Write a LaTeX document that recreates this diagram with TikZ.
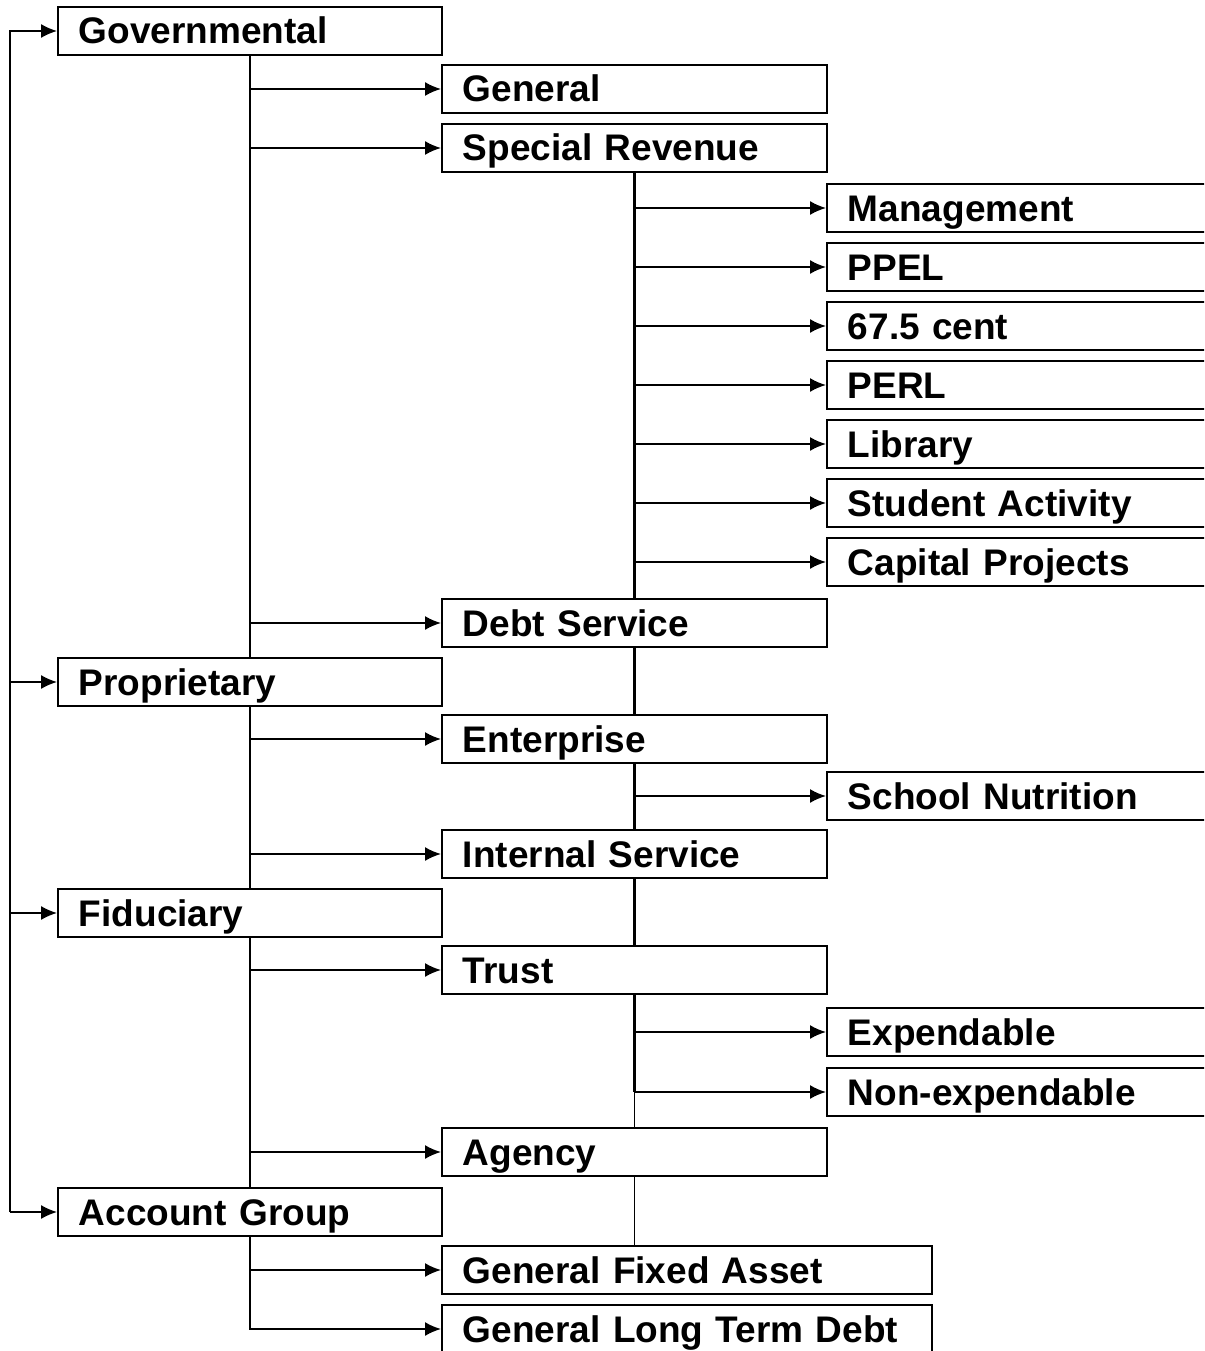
\documentclass[tikz,border=0pt]{standalone}
\usepackage{fontspec}
\setmainfont{Liberation Sans}
\usetikzlibrary{arrows.meta}

\begin{document}
\begin{tikzpicture}[x=1pt, y=-1pt,
  box/.style={draw, line width=1.8pt, anchor=west, minimum height=48pt,
    inner xsep=21pt, inner ysep=0pt, align=left, text height=26pt, text depth=0pt,
    font=\fontsize{37}{40}\selectfont\bfseries},
  grp/.style={box, text width=342pt},
  fund/.style={box, text width=343pt},
  sub/.style={box, text width=400pt},
  wide/.style={box, text width=448pt},
  tip/.style={-{Latex[length=16pt,width=14pt]}},
  link/.style={line width=1.8pt, tip},
  trunk/.style={line width=2.6pt}]
  \clip (0,0) rectangle (1204,1351);
  \node (gov) at (57,31) [grp] {Governmental};
  \node (prop) at (57,682) [grp] {Proprietary};
  \node (fid) at (57,913) [grp] {Fiduciary};
  \node (acct) at (57,1212) [grp] {Account Group};
  \node (gen) at (441,89) [fund] {General};
  \node (spr) at (441,148) [fund] {Special Revenue};
  \node (debt) at (441,623) [fund] {Debt Service};
  \node (ent) at (441,739) [fund] {Enterprise};
  \node (intl) at (441,854) [fund] {Internal Service};
  \node (trust) at (441,970) [fund] {Trust};
  \node (agcy) at (441,1152) [fund] {Agency};
  \node (gfa) at (441,1270) [wide] {General Fixed Asset};
  \node (gltd) at (441,1329) [wide] {General Long Term Debt};
  \node (mgmt) at (826,208) [sub] {Management};
  \node (ppel) at (826,267) [sub] {PPEL};
  \node (cent) at (826,326) [sub] {67.5 cent};
  \node (perl) at (826,385) [sub] {PERL};
  \node (lib) at (826,444) [sub] {Library};
  \node (stu) at (826,503) [sub] {Student Activity};
  \node (cap) at (826,562) [sub] {Capital Projects};
  \node (nutr) at (826,796) [sub] {School Nutrition};
  \node (exp) at (826,1032) [sub] {Expendable};
  \node (nonexp) at (826,1092) [sub] {Non-expendable};
  \coordinate (rail) at (10,0);
  \draw [line width=1.5pt, tip] (rail |- acct.west) -- (rail |- gov.west) -- (gov.west);
  \foreach \n in {prop,fid,acct}
    \draw [line width=1.5pt, tip] (rail |- \n.west) -- (\n.west);
  \draw [trunk] (gov.south) -- (prop.north);
  \draw [trunk] (prop.south) -- (fid.north);
  \draw [trunk] (fid.south) -- (acct.north);
  \draw [trunk] (spr.south) -- (debt.north);
  \draw [trunk] (debt.south) -- (ent.north);
  \draw [trunk] (ent.south) -- (intl.north);
  \draw [trunk] (intl.south) -- (trust.north);
  \draw [trunk] (trust.south) -- (trust.south |- nonexp.west);
  \draw [line width=1pt] (trust.south |- nonexp.west) -- (agcy.north);
  \draw [line width=1pt] (agcy.south) -- (agcy.south |- gfa.north);
  \foreach \n in {gen,spr,debt}
    \draw [link] (gov.south |- \n.west) -- (\n.west);
  \foreach \n in {ent,intl}
    \draw [link] (prop.south |- \n.west) -- (\n.west);
  \foreach \n in {trust,agcy}
    \draw [link] (fid.south |- \n.west) -- (\n.west);
  \foreach \n in {mgmt,ppel,cent,perl,lib,stu,cap}
    \draw [link] (spr.south |- \n.west) -- (\n.west);
  \draw [link] (ent.south |- nutr.west) -- (nutr.west);
  \foreach \n in {exp,nonexp}
    \draw [link] (trust.south |- \n.west) -- (\n.west);
  \draw [link] (acct.south |- gfa.west) -- (gfa.west);
  \draw [link] (acct.south) |- (gltd.west);
\end{tikzpicture}
\end{document}
